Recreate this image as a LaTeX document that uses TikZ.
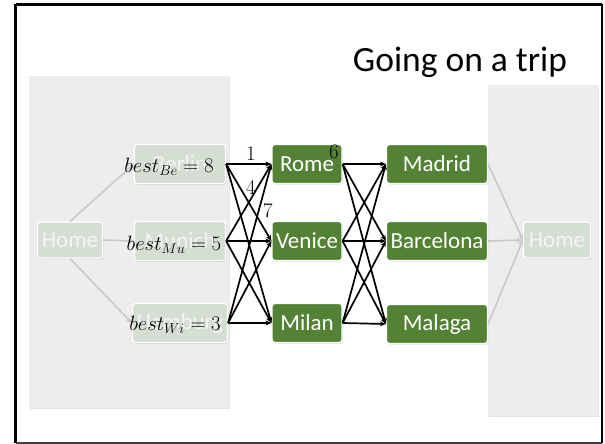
\documentclass[tikz,border=0pt]{standalone}
\usepackage{fontspec}
\setmainfont{Carlito}
\usetikzlibrary{shadows,arrows.meta}
\definecolor{leaf}{HTML}{548235}
\definecolor{fadeleaf}{HTML}{D5DED2}
\definecolor{panel}{HTML}{EDEDED}
\definecolor{faint}{HTML}{C9C9C9}
\begin{document}
\begin{tikzpicture}[x=1pt,y=-1pt,
  city/.style={rectangle, rounded corners=3pt, fill=leaf, draw=white,
    line width=1.2pt, text=white, font=\fontsize{23}{26}\selectfont,
    minimum height=39pt, inner sep=1pt,
    drop shadow={shadow xshift=0.8pt, shadow yshift=-1.2pt, opacity=0.25}},
  ghost/.style={city, fill=fadeleaf, text=white!70!fadeleaf,
    drop shadow={shadow xshift=0.6pt, shadow yshift=-0.8pt, opacity=0.08}},
  route/.style={-{Stealth[length=6pt,width=5pt]}, line width=1.7pt, black},
  dimroute/.style={-{Stealth[length=6pt,width=5pt]}, line width=1.6pt, faint},
  panelbox/.style={fill=panel, draw=none,
    drop shadow={shadow xshift=0.6pt, shadow yshift=-1.2pt, opacity=0.2}},
  cost/.style={font=\fontsize{21}{22}\selectfont, inner sep=0pt},
  best/.style={font=\fontsize{20.5}{22}\selectfont, inner sep=0pt}
]
\useasboundingbox (0,0) rectangle (605,444);
\fill[white] (0,0) rectangle (605,444);

% grey side panels
\path[panelbox] (29,76) rectangle (229,408);
\path[panelbox] (488,85) rectangle (598,416);

% title
\node[font=\fontsize{35.5}{40}\selectfont, anchor=center] (title) at (460,62) {Going on a trip};

% faded start and end
\node[ghost, minimum width=65pt, minimum height=36pt] (H1) at (70,240) {Home};
\node[ghost, minimum width=91pt] (Be) at (180,164) {Berlin};
\node[ghost, minimum width=91pt] (Mu) at (180,241) {Munich};
\node[ghost, minimum width=95pt] (Hb) at (180,323) {Hamburg};
\node[ghost, minimum width=67pt, minimum height=36pt] (H2) at (557,240) {Home};

% Italian and Spanish cities
\node[city, minimum width=70pt] (Ro) at (307,164) {Rome};
\node[city, minimum width=70pt] (Ve) at (307,241) {Venice};
\node[city, minimum width=70pt] (Mi) at (307,323) {Milan};
\node[city, minimum width=101pt] (Md) at (437,164) {Madrid};
\node[city, minimum width=101pt] (Bc) at (437,241) {Barcelona};
\node[city, minimum width=101pt] (Mg) at (437,324) {Malaga};

% faded connectors
\draw[dimroute] (H1.north) -- (Be.west);
\draw[dimroute] (H1.east) -- (Mu.west);
\draw[dimroute] (H1.south) -- (Hb.west);
\draw[dimroute] (Md.east) -- (H2.west);
\draw[dimroute] (Bc.east) -- (H2.west);
\draw[dimroute] (Mg.east) -- (H2.west);

% every pair of consecutive stops
\foreach \a in {Be,Mu,Hb}{
  \foreach \b in {Ro,Ve,Mi}{
    \draw[route] (\a.east) -- (\b.west);
  }
}
\foreach \a in {Ro,Ve,Mi}{
  \foreach \b in {Md,Bc,Mg}{
    \draw[route] (\a.east) -- (\b.west);
  }
}

% best values so far
\node[best] (bBe) at (169,167) {$best_{Be}=8$};
\node[best] (bMu) at (174,245) {$best_{Mu}=5$};
\node[best] (bHb) at (175,325) {$best_{Wi}=3$};

% edge costs
\node[cost] (c1) at (251,154) {$1$};
\node[cost] (c4) at (251,188) {$4$};
\node[cost] (c7) at (268,211) {$7$};
\node[cost] (c6) at (334,152) {$6$};

% frame
\draw[line width=2.5pt, black] (15.5,4.5) -- (602,4.5);
\draw[line width=2.5pt, black] (15.5,4.5) -- (15.5,442.5);
\draw[line width=2pt, black!75] (15.5,442.5) -- (602,442.5);
\draw[line width=2.5pt, black] (602,4.5) -- (602,442.5);
\end{tikzpicture}
\end{document}
